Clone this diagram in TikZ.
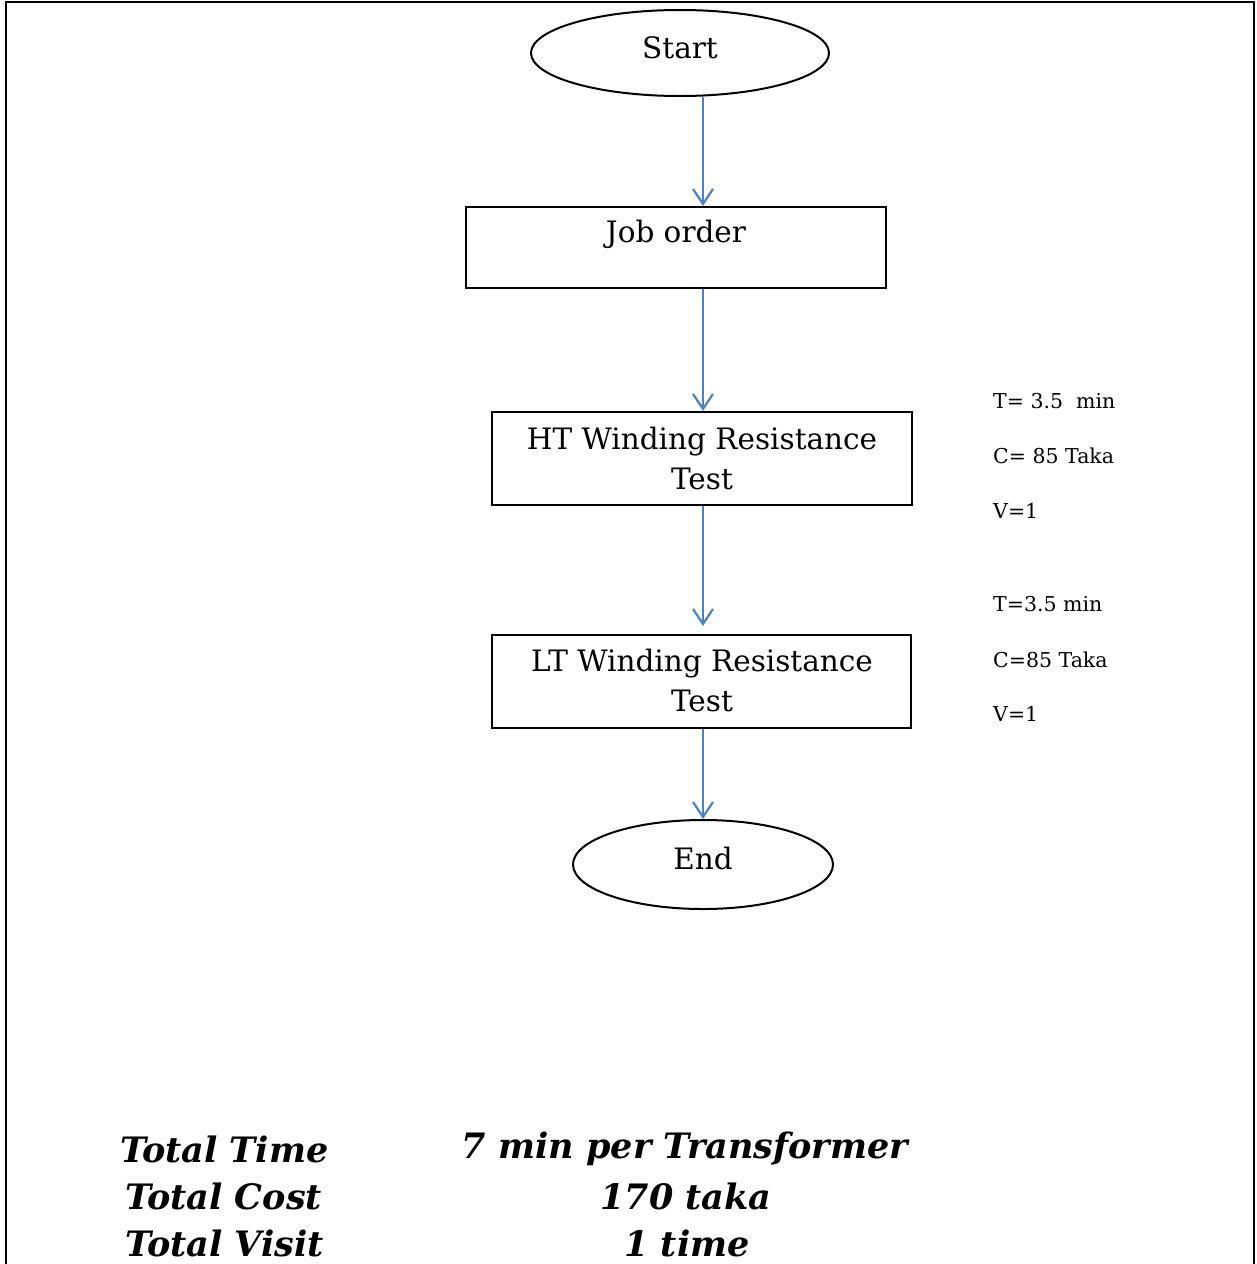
\documentclass[tikz,border=0pt]{standalone}
\usepackage{fontspec}
\setmainfont{DejaVu Serif}
\usetikzlibrary{shapes.geometric,arrows.meta}
\definecolor{arrblue}{RGB}{79,129,189}
\begin{document}
\begin{tikzpicture}[x=1pt,y=-1pt,
 box/.style={draw,line width=2.2pt,inner sep=0pt,rectangle},
 oval/.style={draw,ellipse,line width=2pt,inner sep=0pt},
 boxtext/.style={font=\fontsize{29.5}{40}\selectfont,align=center,inner sep=0pt},
 side/.style={font=\fontsize{20.5}{24}\selectfont,anchor=west,inner sep=0pt},
 tot/.style={font=\fontsize{35}{40}\selectfont\bfseries\itshape,inner sep=0pt},
 arr/.style={draw=arrblue,line width=2.2pt,-{Straight Barb[length=15pt,width=20pt,line width=2.2pt]}}]
\useasboundingbox (0,0) rectangle (1256,1264);
\draw[line width=2.5pt] (6,1264) -- (6,2) -- (1254,2) -- (1254,1264);

\coordinate (axis) at (703,0);

\node[oval,minimum width=298pt,minimum height=86pt] (start) at (680,53) {};
\node[box,minimum width=420pt,minimum height=81pt] (jo) at (676,247.5) {};
\node[box,minimum width=420pt,minimum height=93pt] (ht) at (702,458.5) {};
\node[box,minimum width=419pt,minimum height=93pt] (lt) at (701.5,681.5) {};
\node[oval,minimum width=260pt,minimum height=89pt] (end) at (703,864.5) {};

\node[boxtext] (tstart) at (680,48) {Start};
\node[boxtext] (tjo) at (676,234) {Job order};
\node[boxtext] (tht) at (702,458) {HT Winding Resistance\\Test};
\node[boxtext] (tlt) at (702,680) {LT Winding Resistance\\Test};
\node[boxtext] (tend) at (703,858) {End};

\draw[arr] (start.south -| axis) -- (jo.north -| axis);
\draw[arr] (jo.south -| axis) -- (ht.north -| axis);
\draw[arr] (ht.south -| axis) -- ([yshift=8pt]lt.north -| axis);
\draw[arr] (lt.south -| axis) -- (end.north -| axis);

\node[side] (t1) at (993,401) {T=\ 3.5\ \ min};
\node[side] (c1) at (993,456) {C=\ 85 Taka};
\node[side] (v1) at (993,511) {V=1};
\node[side] (t2) at (993,604) {T=3.5 min};
\node[side] (c2) at (993,660) {C=85 Taka};
\node[side] (v2) at (993,714) {V=1};

\node[tot,anchor=west] (ttl) at (120,1149) {Total Time};
\node[tot,anchor=west] (tcl) at (125,1196) {Total Cost};
\node[tot,anchor=west] (tvl) at (125,1243) {Total Visit};
\node[tot] (ttv) at (685,1149) {7 min per Transformer};
\node[tot] (tcv) at (686,1196) {170 taka};
\node[tot] (tvv) at (687,1243) {1 time};
\end{tikzpicture}
\end{document}
